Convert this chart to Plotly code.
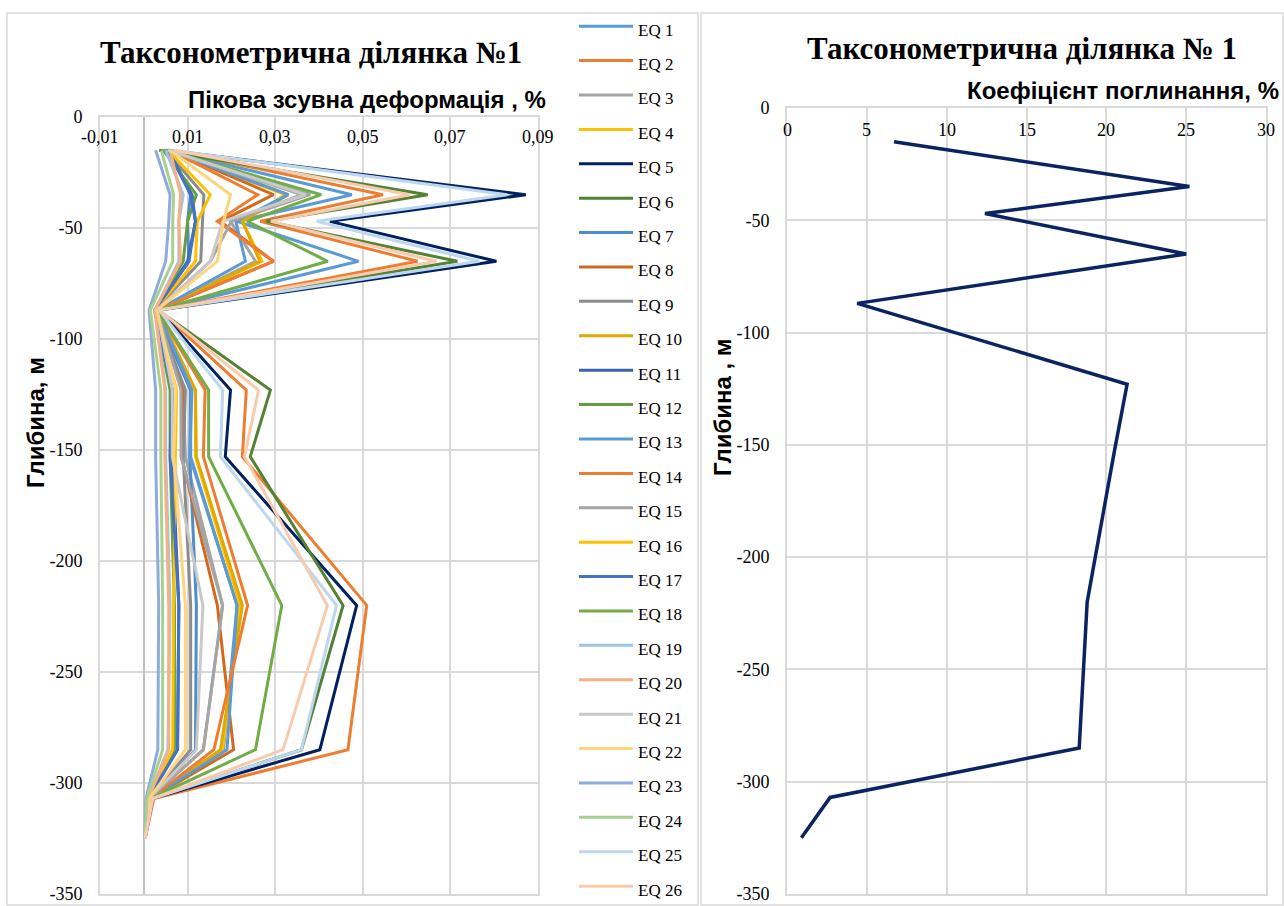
import plotly.graph_objects as go

W, H = 1284, 906

depth = [-15, -35, -47, -65, -87, -123, -153, -220, -285, -307, -325]

series_names = [f"EQ {i}" for i in range(1, 27)]
colors = ["#5B9BD5", "#ED7D31", "#A5A5A5", "#FFC000", "#002060", "#548235",
          "#4F8CC9", "#D2691E", "#8C8C8C", "#E0A800", "#3A62B0", "#62A03E",
          "#5B9BD5", "#ED7D31", "#A5A5A5", "#FFC000", "#4472C4", "#70AD47",
          "#9DC3E6", "#F4B183", "#C9C9C9", "#FFD47F", "#8FAADC", "#A9D18E",
          "#BDD7EE", "#F8CBAD"]

eq01 = [0.0050, 0.0475, 0.0213, 0.0490, 0.0030, 0.0107, 0.0107, 0.0213, 0.0182, 0.0015, 0.0003]
eq02 = [0.0060, 0.0546, 0.0266, 0.0625, 0.0035, 0.0234, 0.0225, 0.0509, 0.0466, 0.0023, 0.0003]
eq03 = [0.0045, 0.0380, 0.0198, 0.0255, 0.0030, 0.0090, 0.0095, 0.0180, 0.0136, 0.0012, 0.0003]
eq04 = [0.0055, 0.0323, 0.0225, 0.0270, 0.0030, 0.0118, 0.0118, 0.0220, 0.0180, 0.0015, 0.0003]
eq05 = [0.0055, 0.0872, 0.0425, 0.0805, 0.0035, 0.0198, 0.0186, 0.0486, 0.0402, 0.0020, 0.0003]
eq06 = [0.0035, 0.0648, 0.0280, 0.0716, 0.0033, 0.0289, 0.0243, 0.0455, 0.0360, 0.0018, 0.0003]
eq07 = [0.0060, 0.0107, 0.0100, 0.0103, 0.0025, 0.0107, 0.0105, 0.0120, 0.0118, 0.0012, 0.0003]
eq08 = [0.0060, 0.0296, 0.0175, 0.0296, 0.0030, 0.0089, 0.0086, 0.0168, 0.0205, 0.0015, 0.0003]
eq09 = [0.0050, 0.0137, 0.0134, 0.0130, 0.0025, 0.0095, 0.0090, 0.0107, 0.0107, 0.0012, 0.0003]
eq10 = [0.0060, 0.0330, 0.0225, 0.0265, 0.0030, 0.0118, 0.0120, 0.0225, 0.0175, 0.0015, 0.0003]
eq11 = [0.0055, 0.0110, 0.0118, 0.0100, 0.0025, 0.0065, 0.0065, 0.0080, 0.0077, 0.0010, 0.0003]
eq12 = [0.0045, 0.0120, 0.0100, 0.0090, 0.0025, 0.0060, 0.0060, 0.0070, 0.0070, 0.0010, 0.0003]
eq13 = [0.0055, 0.0330, 0.0210, 0.0232, 0.0030, 0.0110, 0.0105, 0.0213, 0.0190, 0.0015, 0.0003]
eq14 = [0.0060, 0.0260, 0.0168, 0.0296, 0.0030, 0.0140, 0.0136, 0.0237, 0.0160, 0.0015, 0.0003]
eq15 = [0.0055, 0.0360, 0.0200, 0.0152, 0.0030, 0.0085, 0.0085, 0.0180, 0.0136, 0.0012, 0.0003]
eq16 = [0.0055, 0.0152, 0.0122, 0.0118, 0.0025, 0.0075, 0.0072, 0.0068, 0.0066, 0.0010, 0.0003]
eq17 = [0.0055, 0.0107, 0.0118, 0.0103, 0.0025, 0.0065, 0.0060, 0.0080, 0.0077, 0.0010, 0.0003]
eq18 = [0.0050, 0.0405, 0.0236, 0.0420, 0.0030, 0.0148, 0.0148, 0.0315, 0.0255, 0.0015, 0.0003]
eq19 = [0.0050, 0.0090, 0.0080, 0.0080, 0.0025, 0.0050, 0.0050, 0.0060, 0.0055, 0.0010, 0.0003]
eq20 = [0.0060, 0.0084, 0.0080, 0.0084, 0.0025, 0.0048, 0.0048, 0.0057, 0.0057, 0.0010, 0.0003]
eq21 = [0.0055, 0.0370, 0.0180, 0.0152, 0.0030, 0.0065, 0.0065, 0.0135, 0.0120, 0.0012, 0.0003]
eq22 = [0.0060, 0.0198, 0.0182, 0.0168, 0.0030, 0.0073, 0.0068, 0.0095, 0.0095, 0.0012, 0.0003]
eq23 = [0.0027, 0.0060, 0.0057, 0.0050, 0.0012, 0.0027, 0.0027, 0.0034, 0.0032, 0.0005, 0.0003]
eq24 = [0.0040, 0.0068, 0.0066, 0.0066, 0.0015, 0.0039, 0.0039, 0.0043, 0.0043, 0.0007, 0.0003]
eq25 = [0.0065, 0.0830, 0.0395, 0.0766, 0.0035, 0.0180, 0.0175, 0.0440, 0.0360, 0.0020, 0.0003]
eq26 = [0.0070, 0.0607, 0.0290, 0.0668, 0.0035, 0.0262, 0.0230, 0.0419, 0.0318, 0.0020, 0.0003]

all_series = [eq01, eq02, eq03, eq04, eq05, eq06, eq07, eq08, eq09, eq10, eq11, eq12, eq13,
              eq14, eq15, eq16, eq17, eq18, eq19, eq20, eq21, eq22, eq23, eq24, eq25, eq26]

absorb = [6.7, 25.2, 12.4, 25.0, 4.4, 21.3, 20.5, 18.8, 18.3, 2.7, 0.9]

x1_tickvals = [-0.01, 0.01, 0.03, 0.05, 0.07, 0.09]
x1_ticktext = ["-0,01", "0,01", "0,03", "0,05", "0,07", "0,09"]
x2_tickvals = [0, 5, 10, 15, 20, 25, 30]
x2_ticktext = ["0", "5", "10", "15", "20", "25", "30"]
y_tickvals = [0, -50, -100, -150, -200, -250, -300, -350]
y_ticktext = ["0", "-50", "-100", "-150", "-200", "-250", "-300", "-350"]

title_left = "Таксонометрична ділянка №1"
title_right = "Таксонометрична ділянка № 1"
xtitle_left = "Пікова зсувна деформація , %"
xtitle_right = "Коефіцієнт поглинання, %"
ytitle_left = "Глибина, м"
ytitle_right = "Глибина , м"

fig = go.Figure()
for i, (name, col, vals) in enumerate(zip(series_names, colors, all_series)):
    fig.add_trace(go.Scatter(x=vals, y=depth, mode="lines",
                             name=f'<span style="font-size:17px">{name}</span>',
                             legend="legend" if i < 13 else "legend2",
                             line=dict(color=col, width=3),
                             xaxis="x", yaxis="y"))

fig.add_trace(go.Scatter(x=absorb, y=depth, mode="lines", showlegend=False,
                         line=dict(color="#0B2361", width=3.5),
                         xaxis="x2", yaxis="y2"))

def px(x):
    return x / W

def py(y):
    return 1 - y / H

serif = "Liberation Serif, Times New Roman, serif"
sans = "Liberation Sans, Arial, sans-serif"
tickfont = dict(family=serif, size=18, color="#000000")
grid = "#d9d9d9"

common_grid = dict(showgrid=True, gridcolor=grid, gridwidth=2, automargin=False,
                   showline=True, linecolor=grid, linewidth=2, mirror=True, ticks="")

leg_fs = 24.15
leg_h = 1.3 * leg_fs + 3          # ~34.4 px per legend row
leg_off = 26                      # legend top -> first row centre
legend_common = dict(xanchor="left", yanchor="top",
                     font=dict(family=serif, size=leg_fs, color="#000"),
                     bgcolor="rgba(0,0,0,0)", itemwidth=54, tracegroupgap=0)

annotations = [
    dict(text=f"<b>{title_left}</b>", x=px(311), y=py(53), xref="paper", yref="paper",
         showarrow=False, xanchor="center", yanchor="middle",
         font=dict(family=serif, size=31, color="#000")),
    dict(text=f"<b>{title_right}</b>", x=px(1022), y=py(48), xref="paper", yref="paper",
         showarrow=False, xanchor="center", yanchor="middle",
         font=dict(family=serif, size=31, color="#000")),
    dict(text=f"<b>{xtitle_left}</b>", x=px(548), y=py(99), xref="paper", yref="paper",
         showarrow=False, xanchor="right", yanchor="middle",
         font=dict(family=sans, size=24, color="#000")),
    dict(text=f"<b>{xtitle_right}</b>", x=px(1281), y=py(91), xref="paper", yref="paper",
         showarrow=False, xanchor="right", yanchor="middle",
         font=dict(family=sans, size=24, color="#000")),
    dict(text=f"<b>{ytitle_left}</b>", x=px(35), y=py(423), xref="paper", yref="paper",
         showarrow=False, xanchor="center", yanchor="middle", textangle=-90,
         font=dict(family=sans, size=24, color="#000")),
    dict(text=f"<b>{ytitle_right}</b>", x=px(723), y=py(407), xref="paper", yref="paper",
         showarrow=False, xanchor="center", yanchor="middle", textangle=-90,
         font=dict(family=sans, size=24, color="#000")),
]
# x-axis tick labels sit inside the plot, just under the top axis line (Excel style)
for v, t in zip(x1_tickvals, x1_ticktext):
    annotations.append(dict(text=t, x=v, xref="x", y=py(137), yref="paper", showarrow=False,
                            xanchor="center", yanchor="middle", font=tickfont))
for v, t in zip(x2_tickvals, x2_ticktext):
    annotations.append(dict(text=t, x=v, xref="x2", y=py(130), yref="paper", showarrow=False,
                            xanchor="center", yanchor="middle", font=tickfont))

fig.update_layout(
    width=W, height=H,
    margin=dict(l=0, r=0, t=0, b=0, autoexpand=False),
    paper_bgcolor="white", plot_bgcolor="white",
    showlegend=True,
    legend=dict(x=px(574), y=py(30 - leg_off), **legend_common),
    legend2=dict(x=px(574), y=py(30 + 13 * 34.4 - leg_off), **legend_common),
    xaxis=dict(domain=[px(100), px(538)], range=[-0.01, 0.09], anchor="y",
               tickmode="array", tickvals=x1_tickvals, showticklabels=False,
               zeroline=True, zerolinecolor="#bfbfbf", zerolinewidth=2, **common_grid),
    yaxis=dict(domain=[py(894), py(117)], range=[-350, 0], anchor="x",
               tickmode="array", tickvals=y_tickvals, ticktext=y_ticktext,
               zeroline=False, ticklabelstandoff=12, tickfont=tickfont, **common_grid),
    xaxis2=dict(domain=[px(787), px(1266)], range=[0, 30], anchor="y2",
                tickmode="array", tickvals=x2_tickvals, showticklabels=False,
                zeroline=False, **common_grid),
    yaxis2=dict(domain=[py(894), py(108)], range=[-350, 0], anchor="x2",
                tickmode="array", tickvals=y_tickvals, ticktext=y_ticktext,
                zeroline=False, ticklabelstandoff=12, tickfont=tickfont, **common_grid),
    shapes=[
        dict(type="rect", xref="paper", yref="paper", x0=px(7), x1=px(698), y0=py(905), y1=py(13),
             line=dict(color="#d9d9d9", width=1.5), fillcolor="rgba(0,0,0,0)", layer="below"),
        dict(type="rect", xref="paper", yref="paper", x0=px(701), x1=px(1283), y0=py(905), y1=py(13),
             line=dict(color="#d9d9d9", width=1.5), fillcolor="rgba(0,0,0,0)", layer="below"),
    ],
    annotations=annotations,
)

fig.write_html("out.html")
